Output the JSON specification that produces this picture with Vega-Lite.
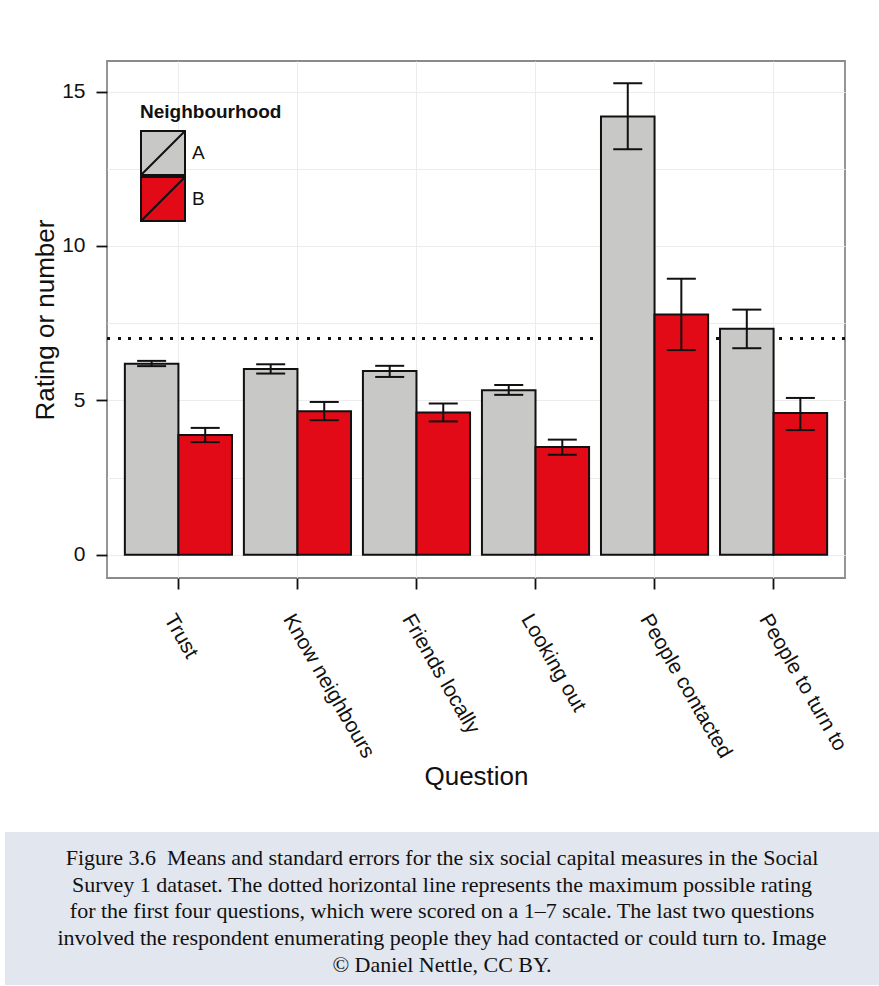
{
  "$schema": "https://vega.github.io/schema/vega-lite/v6.json",
  "padding": {"left": 5, "top": 60, "right": 0, "bottom": 0},
  "background": "white",
  "spacing": 42,
  "config": {
    "font": "Liberation Sans",
    "view": {"stroke": "#8a8a8a", "strokeWidth": 1.8}
  },
  "vconcat": [
    {
      "spacing": 25,
      "align": "none",
      "hconcat": [
        {
          "width": 1,
          "height": 10,
          "view": {"stroke": null},
          "data": {"values": []},
          "mark": "point",
          "encoding": {}
        },
        {
          "width": 738,
          "height": 517,
          "data": {
            "values": [
              {"Question": "Trust", "Neighbourhood": "A", "mean": 6.19, "lower": 6.11, "upper": 6.28},
              {"Question": "Trust", "Neighbourhood": "B", "mean": 3.88, "lower": 3.65, "upper": 4.11},
              {"Question": "Know neighbours", "Neighbourhood": "A", "mean": 6.02, "lower": 5.87, "upper": 6.17},
              {"Question": "Know neighbours", "Neighbourhood": "B", "mean": 4.65, "lower": 4.36, "upper": 4.95},
              {"Question": "Friends locally", "Neighbourhood": "A", "mean": 5.95, "lower": 5.76, "upper": 6.12},
              {"Question": "Friends locally", "Neighbourhood": "B", "mean": 4.61, "lower": 4.32, "upper": 4.9},
              {"Question": "Looking out", "Neighbourhood": "A", "mean": 5.33, "lower": 5.18, "upper": 5.5},
              {"Question": "Looking out", "Neighbourhood": "B", "mean": 3.49, "lower": 3.24, "upper": 3.73},
              {"Question": "People contacted", "Neighbourhood": "A", "mean": 14.19, "lower": 13.13, "upper": 15.27},
              {"Question": "People contacted", "Neighbourhood": "B", "mean": 7.78, "lower": 6.63, "upper": 8.94},
              {"Question": "People to turn to", "Neighbourhood": "A", "mean": 7.32, "lower": 6.69, "upper": 7.94},
              {"Question": "People to turn to", "Neighbourhood": "B", "mean": 4.59, "lower": 4.04, "upper": 5.08}
            ]
          },
          "encoding": {
            "x": {
              "field": "Question",
              "type": "nominal",
              "sort": ["Trust", "Know neighbours", "Friends locally", "Looking out", "People contacted", "People to turn to"],
              "scale": {"paddingInner": 0.1, "paddingOuter": 0.15},
              "axis": {
                "title": "Question",
                "titleFontSize": 26,
                "titleFontWeight": "normal",
                "titleColor": "#111",
                "titlePadding": 2,
                "labelAngle": 60,
                "labelAlign": "left",
                "labelBaseline": "top",
                "labelFontSize": 21,
                "labelColor": "#111",
                "labelPadding": 21,
                "tickSize": 11,
                "tickWidth": 1.8,
                "tickColor": "#111",
                "domain": false,
                "grid": true,
                "gridColor": "#ececec",
                "gridWidth": 1
              }
            }
          },
          "layer": [
            {
              "mark": {"type": "rule", "strokeDash": [2.5, 8], "strokeWidth": 2.5, "color": "#111"},
              "encoding": {"y": {"datum": 7, "type": "quantitative"}, "x": null}
            },
            {
              "mark": {"type": "bar", "stroke": "#111", "strokeWidth": 2},
              "encoding": {
                "xOffset": {"field": "Neighbourhood", "type": "nominal", "scale": {"paddingInner": 0, "paddingOuter": 0}},
                "y": {
                  "field": "mean",
                  "type": "quantitative",
                  "scale": {"domain": [-0.75, 15.99], "nice": false, "zero": false},
                  "axis": {
                    "title": "Rating or number",
                    "titleFontSize": 26,
                    "titleFontWeight": "normal",
                    "titleColor": "#111",
                    "titlePadding": 3,
                    "values": [0, 2.5, 5, 7.5, 10, 12.5, 15],
                    "labelExpr": "datum.value % 5 === 0 ? datum.label : ''",
                    "labelFontSize": 21,
                    "labelColor": "#111",
                    "labelPadding": 11,
                    "tickSize": 11,
                    "tickWidth": 1.8,
                    "tickColor": "#111",
                    "tickOpacity": {"condition": {"test": "datum.value % 5 !== 0", "value": 0}, "value": 1},
                    "domain": false,
                    "grid": true,
                    "gridColor": "#ececec",
                    "gridWidth": 1
                  }
                },
                "fill": {
                  "field": "Neighbourhood",
                  "type": "nominal",
                  "scale": {"domain": ["A", "B"], "range": ["#c8c8c6", "#e10a16"]},
                  "legend": {
                    "title": "Neighbourhood",
                    "orient": "none",
                    "legendX": 135,
                    "legendY": 42,
                    "titleFontSize": 19,
                    "titleFontWeight": "bold",
                    "titleColor": "#111",
                    "titlePadding": 8,
                    "labelFontSize": 19,
                    "labelColor": "#111",
                    "labelOffset": 6,
                    "symbolType": "M-1,-1H1V1H-1Z M-1,1L1,-1",
                    "symbolSize": 1936,
                    "symbolStrokeColor": "#111",
                    "symbolStrokeWidth": 2,
                    "symbolOpacity": 1,
                    "clipHeight": 46,
                    "rowPadding": 0,
                    "padding": 0
                  }
                }
              }
            },
            {
              "mark": {"type": "rule", "strokeWidth": 2, "color": "#111"},
              "encoding": {
                "xOffset": {"field": "Neighbourhood", "type": "nominal"},
                "y": {"field": "lower", "type": "quantitative"},
                "y2": {"field": "upper"}
              }
            },
            {
              "mark": {"type": "tick", "thickness": 2, "size": 29, "color": "#111", "opacity": 1},
              "encoding": {
                "xOffset": {"field": "Neighbourhood", "type": "nominal"},
                "y": {"field": "lower", "type": "quantitative"}
              }
            },
            {
              "mark": {"type": "tick", "thickness": 2, "size": 29, "color": "#111", "opacity": 1},
              "encoding": {
                "xOffset": {"field": "Neighbourhood", "type": "nominal"},
                "y": {"field": "upper", "type": "quantitative"}
              }
            }
          ]
        }
      ]
    },
    {
      "width": 874,
      "height": 153,
      "view": {"fill": "#e2e6ef", "stroke": null},
      "data": {
        "values": [
          {"line": 1, "pos": 0.5, "text": "Figure 3.6\u00a0 Means and standard errors for the six social capital measures in the Social"},
          {"line": 2, "pos": 0.5, "text": "Survey 1 dataset. The dotted horizontal line represents the maximum possible rating"},
          {"line": 3, "pos": 0.5, "text": "for the first four questions, which were scored on a 1\u20137 scale. The last two questions"},
          {"line": 4, "pos": 0.5, "text": "involved the respondent enumerating people they had contacted or could turn to. Image"},
          {"line": 5, "pos": 0.5, "text": "\u00a9 Daniel Nettle, CC BY."}
        ]
      },
      "mark": {"type": "text", "font": "Liberation Serif", "fontSize": 22, "color": "#111", "align": "center", "baseline": "alphabetic"},
      "encoding": {
        "x": {"field": "pos", "type": "quantitative", "scale": {"domain": [0, 1], "nice": false, "zero": false}, "axis": null},
        "y": {"field": "line", "type": "quantitative", "scale": {"domain": [-0.2336, 5.486], "reverse": true, "nice": false, "zero": false}, "axis": null},
        "text": {"field": "text", "type": "nominal"}
      }
    }
  ]
}
